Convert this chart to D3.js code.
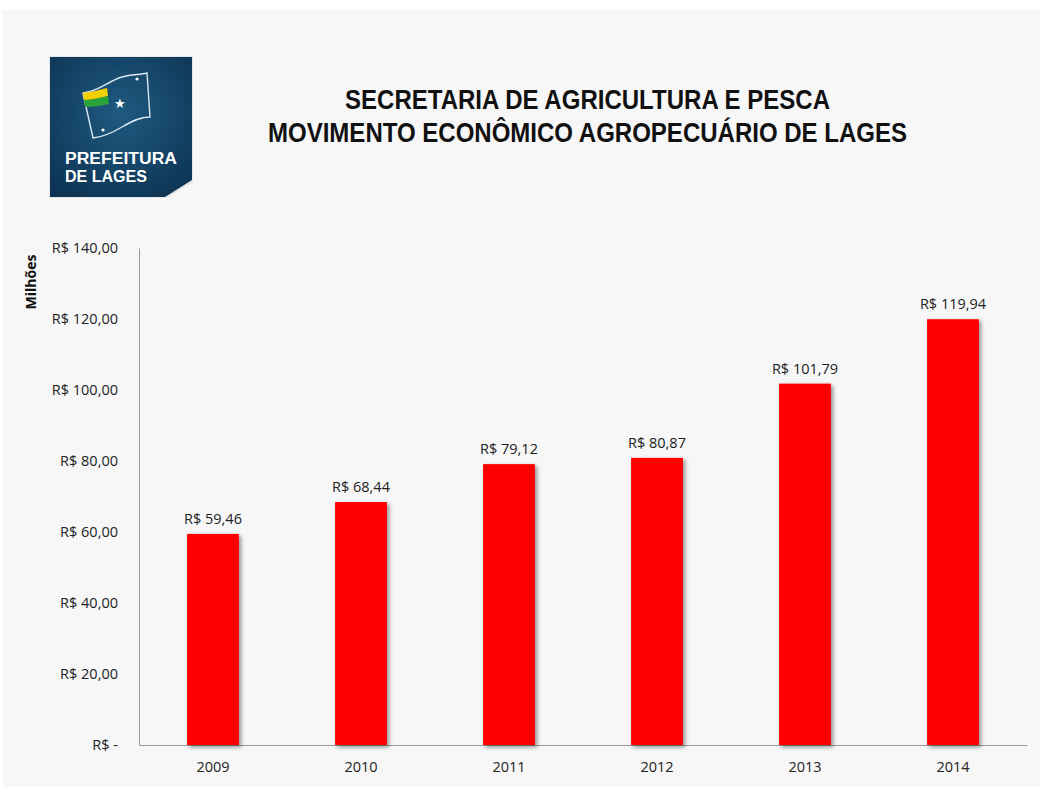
<!DOCTYPE html>
<html>
<head>
<meta charset="utf-8">
<script src="https://cdn.jsdelivr.net/npm/d3@7"></script>
<style>
body{margin:0;background:#fff}
svg text{font-family:"Open Sans","Noto Sans",sans-serif}
</style>
</head>
<body>
<div id="chart"></div>
<script>
var w = 1040
var h = 787

var years = ["2009","2010","2011","2012","2013","2014"]
var values = [59.46,68.44,79.12,80.87,101.79,119.94]
var ticks = [0,20,40,60,80,100,120,140]
var titleLines = ["SECRETARIA DE AGRICULTURA E PESCA","MOVIMENTO ECONÔMICO AGROPECUÁRIO DE LAGES"]
var titleWidths = [485,639]

function money(v){
    if(v==0) return "R$ -"
    return "R$ "+d3.format(",.2f")(v).replace(/,/g,"x").replace(".",",").replace(/x/g,".")
}

var svg = d3.select("#chart").append("svg").attr("width",w).attr("height",h)
var defs = svg.append("defs")

var shadow = defs.append("filter").attr("id","shadow").attr("x","-20%").attr("y","-20%").attr("width","150%").attr("height","150%")
shadow.append("feDropShadow").attr("dx",2).attr("dy",2).attr("stdDeviation",2).attr("flood-color","#000").attr("flood-opacity",0.45)

var grad = defs.append("radialGradient").attr("id","logoGrad").attr("cx","50%").attr("cy","40%").attr("r","70%")
grad.append("stop").attr("offset","0%").attr("stop-color","#1f5a80")
grad.append("stop").attr("offset","100%").attr("stop-color","#0d3454")

// background panel
svg.append("rect").attr("x",3).attr("y",10).attr("width",w-3).attr("height",h-10).attr("fill","#f7f7f7")

// logo
var logo = svg.append("g").attr("transform","translate(50,57)")
logo.append("path").attr("d","M-1,-1 H143 V125 L117,141 H-1 Z").attr("fill","#e6e6e6")
logo.append("path").attr("d","M0,0 H142 V123 L115,140 H0 Z").attr("fill","url(#logoGrad)")
logo.append("path")
    .attr("d","M33,36 C50,34 58,24 72,20 C82,17 90,18 97,16 L100,60 C90,60 82,64 72,70 C62,76 52,80 43,81 Z")
    .attr("fill","none").attr("stroke","#d7e8f2").attr("stroke-width",1.4)
logo.append("path").attr("d","M33,36 C41,35 49,33 57,31 L58,39 C50,41 42,43 34,43 Z").attr("fill","#f2d000")
logo.append("path").attr("d","M34,43 C42,43 50,41 58,39 L59,47 C51,49 43,50 35,50 Z").attr("fill","#2aa33a")
logo.append("text").attr("x",70).attr("y",51).attr("text-anchor","middle").attr("fill","#fff").attr("font-size",13).text("★")
logo.append("circle").attr("cx",87).attr("cy",22).attr("r",1.6).attr("fill","#fff")
logo.append("circle").attr("cx",53).attr("cy",73).attr("r",1.6).attr("fill","#fff")
logo.append("text").attr("x",15).attr("y",107).attr("fill","#fff").attr("font-size",16).attr("font-weight","bold")
    .style("font-family","Liberation Sans, Arial, sans-serif").attr("textLength",112).attr("lengthAdjust","spacingAndGlyphs").text("PREFEITURA")
logo.append("text").attr("x",15).attr("y",125).attr("fill","#fff").attr("font-size",16).attr("font-weight","bold")
    .style("font-family","Liberation Sans, Arial, sans-serif").attr("textLength",82).attr("lengthAdjust","spacingAndGlyphs").text("DE LAGES")

// title
svg.selectAll(".title").data(titleLines).enter().append("text")
    .attr("class","title")
    .attr("x",function(d,i){return 587.5-titleWidths[i]/2}).attr("y",function(d,i){return 109+i*33})
    .attr("font-size",27).attr("font-weight","bold").attr("fill","#111")
    .attr("textLength",function(d,i){return titleWidths[i]}).attr("lengthAdjust","spacingAndGlyphs")
    .style("font-family","Liberation Sans, Arial, sans-serif")
    .text(function(d){return d})

// chart
var margin = {left:139,right:1027,top:248,bottom:745}
var x = d3.scaleBand().domain(years).range([margin.left,margin.right]).paddingInner(0.65).paddingOuter(0.325)
var y = d3.scaleLinear().domain([0,140]).range([margin.bottom,margin.top])

var yAxis = svg.append("g").attr("transform","translate("+margin.left+",0)")
    .call(d3.axisLeft(y).tickValues(ticks).tickSize(0).tickPadding(21).tickFormat(money))
yAxis.select(".domain").attr("stroke","#9a9a9a")
yAxis.selectAll("text").attr("font-size",14.5).attr("fill","#222")

var xAxis = svg.append("g").attr("transform","translate(0,"+margin.bottom+")")
    .call(d3.axisBottom(x).tickSize(0).tickPadding(17).tickSizeOuter(0))
xAxis.select(".domain").attr("stroke","#9a9a9a")
xAxis.selectAll("text").attr("font-size",14.5).attr("fill","#222")

svg.append("text").attr("transform","translate(36,282) rotate(-90)")
    .attr("text-anchor","middle").attr("font-size",14).attr("font-weight","bold").attr("fill","#111").text("Milhões")

var data = years.map(function(d,i){return {year:d,value:values[i]}})

svg.selectAll(".bar").data(data).enter().append("rect")
    .attr("class","bar")
    .attr("x",function(d){return x(d.year)})
    .attr("y",function(d){return y(d.value)})
    .attr("width",x.bandwidth())
    .attr("height",function(d){return y(0)-y(d.value)})
    .attr("fill","#ff0000")
    .attr("filter","url(#shadow)")

svg.selectAll(".label").data(data).enter().append("text")
    .attr("class","label")
    .attr("x",function(d){return x(d.year)+x.bandwidth()/2})
    .attr("y",function(d){return y(d.value)-10})
    .attr("text-anchor","middle").attr("font-size",14.5).attr("fill","#222")
    .text(function(d){return money(d.value)})
</script>
</body>
</html>
